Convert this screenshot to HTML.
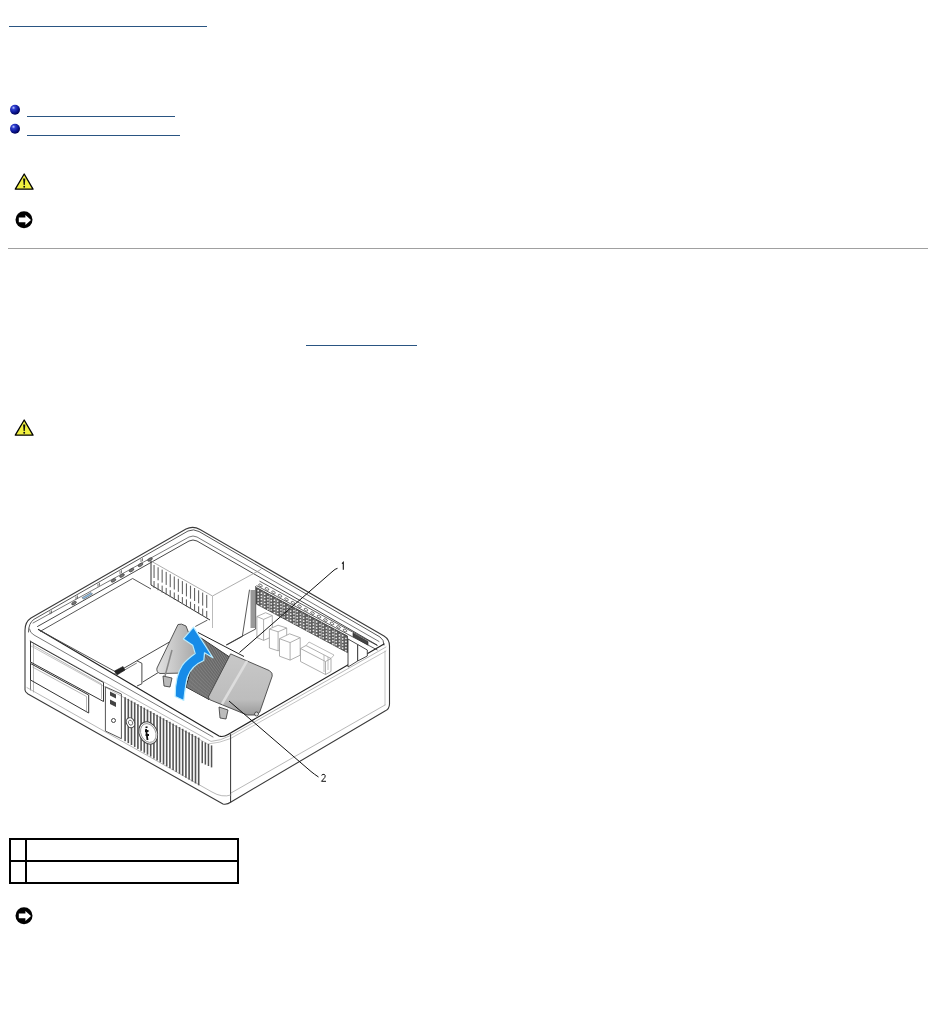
<!DOCTYPE html>
<html>
<head>
<meta charset="utf-8">
<style>
html,body{margin:0;padding:0;background:#fff;width:936px;height:1011px;overflow:hidden;font-family:"Liberation Sans",sans-serif;}
.a{position:absolute;}
.ul{position:absolute;height:1px;background:#2a5582;}
.tb{position:absolute;background:#000;}
</style>
</head>
<body>
<div class="ul" style="left:9px;top:26px;width:198px"></div>
<div class="ul" style="left:27px;top:116px;width:148px"></div>
<div class="ul" style="left:27px;top:135px;width:153px"></div>
<div class="a" style="left:8px;top:248px;width:920px;height:1px;background:#a0a0a0"></div>
<div class="ul" style="left:306px;top:345px;width:111px"></div>
<!-- table -->
<div class="tb" style="left:9px;top:838px;width:230px;height:2px"></div>
<div class="tb" style="left:9px;top:860px;width:230px;height:2px"></div>
<div class="tb" style="left:9px;top:882px;width:230px;height:2px"></div>
<div class="tb" style="left:9px;top:838px;width:2px;height:46px"></div>
<div class="tb" style="left:25px;top:838px;width:2px;height:46px"></div>
<div class="tb" style="left:237px;top:838px;width:2px;height:46px"></div>
<svg class="a" style="left:0;top:0" width="936" height="1011" viewBox="0 0 936 1011">
<defs>
<radialGradient id="bg" cx="0.35" cy="0.3" r="0.7">
<stop offset="0" stop-color="#c8d0ff"/>
<stop offset="0.25" stop-color="#3040d0"/>
<stop offset="0.7" stop-color="#0a1490"/>
<stop offset="1" stop-color="#000050"/>
</radialGradient>
<g id="caut">
<path d="M24.2 174 L15.3 189.2 L33 189.2 Z" fill="#f0f040" stroke="#000" stroke-width="1.3" stroke-linejoin="round"/>
<path d="M23.1 178.5 L25.3 178.5 L24.8 185 L23.6 185 Z" fill="#111"/>
<circle cx="24.2" cy="186.7" r="0.95" fill="#111"/>
</g>
<g id="note">
<circle cx="24" cy="219.8" r="8.5" fill="#000"/>
<path d="M18.8 217.6 H25.4 V214.9 L31 220 L25.4 225 V222.2 H18.8 Z" fill="#fff"/>
</g>
</defs>
<circle cx="15" cy="109.8" r="5" fill="url(#bg)"/>
<circle cx="15" cy="128.8" r="5" fill="url(#bg)"/>
<use href="#caut"/>
<use href="#caut" y="246"/>
<use href="#note"/>
<use href="#note" y="696"/>
<g id="illus">
<g fill="none" stroke-linejoin="round" stroke-linecap="round">
<path d="M25 690 L25 630 Q25 622 31 618 L186 529 Q193 525.5 200 529.5 L384 636 Q389.5 639.5 389.5 646 L389.5 704 Q389.5 709 385 711 L231 802 Q227 805 223 804 L28 694 Q25 692 25 690 Z" fill="#fff" stroke="#3a3a3a" stroke-width="1.1"/>
<path d="M28.5 632 Q28.5 623 34 619.3 L188 531 Q193.5 528.5 199 531.5 L380 637 Q384 639.5 384 645" stroke="#444" stroke-width="0.9"/>
<path d="M33 623 L189 537 Q193 535 197 537 L379 641.5" stroke="#555" stroke-width="0.8"/>
<path d="M37.5 626.5 L189 541 Q193 539 197 541 L377 645" stroke="#333" stroke-width="0.9"/>

<path d="M38.5 629.5 L219 736 Q223 737.5 228 734.5 L384 644" stroke="#222" stroke-width="1.2"/>
<path d="M29.5 629 Q30 633 34 635 L213 737" stroke="#555" stroke-width="0.8"/>
<path d="M30 641 L211 741.4 Q220 741 230.6 735.5 L386 647" stroke="#999" stroke-width="0.7"/>
<path d="M31 646 L207.8 744 Q220 743 230.6 738.5 L386 651" stroke="#aaa" stroke-width="0.7"/>
<path d="M30.5 641 L30.5 690" stroke="#555" stroke-width="0.8"/>
<path d="M33.5 644 L33.5 692" stroke="#999" stroke-width="0.7"/>
<path d="M231 793 L385 705" stroke="#999" stroke-width="0.7"/>
<path d="M385 651 L385 705" stroke="#aaa" stroke-width="0.7"/>
<path d="M230.6 734.5 L230.6 802" stroke="#333" stroke-width="1"/>
<path d="M27 687.6 L212 792 Q222 798 231 795" stroke="#999" stroke-width="0.7"/>
</g>
<path d="M50.0 611.3 l0 3 M51.5 610.4 l0 3" stroke="#444" stroke-width="0.7" fill="none"/><path d="M76.0 596.4 l0 3 M77.5 595.5 l0 3" stroke="#444" stroke-width="0.7" fill="none"/><path d="M98.0 583.7 l0 3 M99.5 582.8 l0 3" stroke="#444" stroke-width="0.7" fill="none"/><path d="M120.0 571.1 l0 3 M121.5 570.2 l0 3" stroke="#444" stroke-width="0.7" fill="none"/><path d="M141.0 559.1 l0 3 M142.5 558.2 l0 3" stroke="#444" stroke-width="0.7" fill="none"/><ellipse cx="74.0" cy="603.1" rx="2.6" ry="1.3" transform="rotate(-30 74.0 603.1)" fill="#777" stroke="#333" stroke-width="0.6"/><ellipse cx="113.5" cy="580.4" rx="2.6" ry="1.3" transform="rotate(-30 113.5 580.4)" fill="#777" stroke="#333" stroke-width="0.6"/><ellipse cx="122.0" cy="575.6" rx="2.6" ry="1.3" transform="rotate(-30 122.0 575.6)" fill="#777" stroke="#333" stroke-width="0.6"/><ellipse cx="131.5" cy="570.1" rx="2.6" ry="1.3" transform="rotate(-30 131.5 570.1)" fill="#777" stroke="#333" stroke-width="0.6"/><ellipse cx="140.5" cy="564.9" rx="2.6" ry="1.3" transform="rotate(-30 140.5 564.9)" fill="#777" stroke="#333" stroke-width="0.6"/><ellipse cx="150.0" cy="559.5" rx="2.6" ry="1.3" transform="rotate(-30 150.0 559.5)" fill="#777" stroke="#333" stroke-width="0.6"/><path d="M82 597.7 l9 -5.2 l1.5 1.5 l-9 5.2 z" fill="#8fc0e8" stroke="#555" stroke-width="0.6"/>
<g fill="none" stroke="#333" stroke-width="1">
<path d="M30.5 641.5 L103.5 682.5 L103.5 701.5 L30.5 662 Z"/>
<path d="M32.5 645 L101.5 684 L101.5 699" stroke="#999" stroke-width="0.7"/>
<path d="M30.5 663.5 L88.7 695 L88.7 713 L30.5 680 Z"/>
<path d="M32.5 667 L86.5 696.5 L86.5 711" stroke="#999" stroke-width="0.7"/>
<path d="M105.4 686.8 L121.4 694 L121.4 738.7 L105.4 731 Z" stroke="#555"/>
</g>
<g fill="#444">
<path d="M110 691.5 L116 694.5 L116 698.5 L110 695.5 Z"/>
<path d="M110 699.5 L116 702.5 L116 707 L110 704 Z"/>
<circle cx="113.5" cy="720.5" r="2" fill="none" stroke="#444" stroke-width="1"/>
</g>
<g fill="#555"><rect x="124.30" y="697.2" width="1.6" height="44.0"/><rect x="127.50" y="698.9" width="1.6" height="44.2"/><rect x="130.70" y="700.7" width="1.6" height="44.3"/><rect x="133.90" y="702.4" width="1.6" height="44.5"/><rect x="137.10" y="704.2" width="1.6" height="44.7"/><rect x="140.30" y="706.0" width="1.6" height="44.8"/><rect x="143.50" y="707.7" width="1.6" height="45.0"/><rect x="146.70" y="709.5" width="1.6" height="45.1"/><rect x="149.90" y="711.2" width="1.6" height="45.3"/><rect x="153.10" y="713.0" width="1.6" height="45.5"/><rect x="156.30" y="714.8" width="1.6" height="45.6"/><rect x="159.50" y="716.5" width="1.6" height="45.8"/><rect x="162.70" y="718.3" width="1.6" height="45.9"/><rect x="165.90" y="720.0" width="1.6" height="46.1"/><rect x="169.10" y="721.8" width="1.6" height="46.3"/><rect x="172.30" y="723.6" width="1.6" height="46.4"/><rect x="175.50" y="725.3" width="1.6" height="46.6"/><rect x="178.70" y="727.1" width="1.6" height="46.7"/><rect x="181.90" y="728.8" width="1.6" height="46.9"/><rect x="185.10" y="730.6" width="1.6" height="47.1"/><rect x="188.30" y="732.4" width="1.6" height="47.2"/><rect x="191.50" y="734.1" width="1.6" height="47.4"/><rect x="194.70" y="735.9" width="1.6" height="47.5"/><rect x="197.90" y="737.6" width="1.6" height="47.7"/><rect x="201.50" y="741.2" width="1.5" height="22.0"/><rect x="204.60" y="742.6" width="1.5" height="22.0"/><rect x="207.70" y="744.0" width="1.5" height="22.0"/><rect x="210.80" y="745.4" width="1.5" height="22.0"/></g>
<g fill="none" stroke-linejoin="round">
<path d="M151 561 L212.5 596 L260 570 L262 568" stroke="#999" stroke-width="0.8"/>
<path d="M151 561 L151 585 L210 620" stroke="#333" stroke-width="1"/>
<path d="M212.5 596 L212.5 628" stroke="#aaa" stroke-width="0.8"/>
</g>
<g fill="#666"><rect x="153.50" y="565.0" width="1.1" height="13" /><rect x="153.50" y="581.0" width="1.1" height="7" /><rect x="157.55" y="567.3" width="1.1" height="13" /><rect x="157.55" y="583.3" width="1.1" height="7" /><rect x="161.60" y="569.6" width="1.1" height="13" /><rect x="161.60" y="585.6" width="1.1" height="7" /><rect x="165.65" y="571.9" width="1.1" height="13" /><rect x="165.65" y="587.9" width="1.1" height="7" /><rect x="169.70" y="574.2" width="1.1" height="13" /><rect x="169.70" y="590.2" width="1.1" height="7" /><rect x="173.75" y="576.5" width="1.1" height="13" /><rect x="173.75" y="592.5" width="1.1" height="7" /><rect x="177.80" y="578.8" width="1.1" height="13" /><rect x="177.80" y="594.8" width="1.1" height="7" /><rect x="181.85" y="581.1" width="1.1" height="13" /><rect x="181.85" y="597.1" width="1.1" height="7" /><rect x="185.90" y="583.4" width="1.1" height="13" /><rect x="185.90" y="599.4" width="1.1" height="7" /><rect x="189.95" y="585.7" width="1.1" height="13" /><rect x="189.95" y="601.7" width="1.1" height="7" /><rect x="194.00" y="588.0" width="1.1" height="13" /><rect x="194.00" y="604.0" width="1.1" height="7" /><rect x="198.05" y="590.3" width="1.1" height="13" /><rect x="198.05" y="606.3" width="1.1" height="7" /><rect x="202.10" y="592.6" width="1.1" height="13" /><rect x="202.10" y="608.6" width="1.1" height="7" /><rect x="206.15" y="594.9" width="1.1" height="13" /><rect x="206.15" y="610.9" width="1.1" height="7" /></g>
<g fill="none" stroke="#444" stroke-width="0.9">
<path d="M40 631.5 L132.6 578.5 L151 589"/>
<path d="M40 630.5 L116 672"/>
<path d="M114.5 673.6 L136.8 660.8 L171 641.1 L174.4 635" stroke="#333"/>
<path d="M158 672.7 L142.7 682.1" stroke="#333"/>
<path d="M136.8 660.8 L141.9 663.3 L141.9 683.8 L137 686" stroke="#333"/>
<path d="M122 671.5 L136.8 663" stroke="#555" stroke-width="0.8"/>
<path d="M114.5 671 L123 666.5 L125 670 L117 675 Z" fill="#222" stroke="#222" stroke-width="0.6"/>
</g>
<g fill="none" stroke="#444" stroke-width="0.9">
<path d="M249.5 589.7 L242.4 636 L226 645"/>
<path d="M255.7 586 L255.7 629 L242.4 636"/>
</g>
<rect x="250.5" y="590" width="4.5" height="38" fill="#999" transform="skewY(0)"/>

<path d="M256.5 587.6 L347.5 636.1 L347.5 652.6 L256.5 604.1 Z" fill="#5e5e5e" stroke="#333" stroke-width="0.8"/>
<g fill="#f0f0f0"><circle cx="258.2" cy="590.7" r="0.85"/><circle cx="258.2" cy="593.8" r="0.85"/><circle cx="258.2" cy="596.9" r="0.85"/><circle cx="258.2" cy="600.0" r="0.85"/><circle cx="258.2" cy="603.1" r="0.85"/><circle cx="261.4" cy="593.2" r="0.85"/><circle cx="261.4" cy="596.3" r="0.85"/><circle cx="261.4" cy="599.4" r="0.85"/><circle cx="261.4" cy="602.5" r="0.85"/><circle cx="261.4" cy="605.6" r="0.85"/><circle cx="264.7" cy="594.2" r="0.85"/><circle cx="264.7" cy="597.3" r="0.85"/><circle cx="264.7" cy="600.4" r="0.85"/><circle cx="264.7" cy="603.5" r="0.85"/><circle cx="264.7" cy="606.6" r="0.85"/><circle cx="267.9" cy="596.7" r="0.85"/><circle cx="267.9" cy="599.8" r="0.85"/><circle cx="267.9" cy="602.9" r="0.85"/><circle cx="267.9" cy="606.0" r="0.85"/><circle cx="267.9" cy="609.1" r="0.85"/><circle cx="271.2" cy="597.6" r="0.85"/><circle cx="271.2" cy="600.7" r="0.85"/><circle cx="271.2" cy="603.8" r="0.85"/><circle cx="271.2" cy="606.9" r="0.85"/><circle cx="271.2" cy="610.0" r="0.85"/><circle cx="274.4" cy="600.2" r="0.85"/><circle cx="274.4" cy="603.3" r="0.85"/><circle cx="274.4" cy="606.4" r="0.85"/><circle cx="274.4" cy="609.5" r="0.85"/><circle cx="274.4" cy="612.6" r="0.85"/><circle cx="277.7" cy="601.1" r="0.85"/><circle cx="277.7" cy="604.2" r="0.85"/><circle cx="277.7" cy="607.3" r="0.85"/><circle cx="277.7" cy="610.4" r="0.85"/><circle cx="277.7" cy="613.5" r="0.85"/><circle cx="280.9" cy="603.6" r="0.85"/><circle cx="280.9" cy="606.7" r="0.85"/><circle cx="280.9" cy="609.8" r="0.85"/><circle cx="280.9" cy="612.9" r="0.85"/><circle cx="280.9" cy="616.0" r="0.85"/><circle cx="284.2" cy="604.6" r="0.85"/><circle cx="284.2" cy="607.7" r="0.85"/><circle cx="284.2" cy="610.8" r="0.85"/><circle cx="284.2" cy="613.9" r="0.85"/><circle cx="284.2" cy="617.0" r="0.85"/><circle cx="287.4" cy="607.1" r="0.85"/><circle cx="287.4" cy="610.2" r="0.85"/><circle cx="287.4" cy="613.3" r="0.85"/><circle cx="287.4" cy="616.4" r="0.85"/><circle cx="287.4" cy="619.5" r="0.85"/><circle cx="290.7" cy="608.0" r="0.85"/><circle cx="290.7" cy="611.1" r="0.85"/><circle cx="290.7" cy="614.2" r="0.85"/><circle cx="290.7" cy="617.3" r="0.85"/><circle cx="290.7" cy="620.4" r="0.85"/><circle cx="293.9" cy="610.6" r="0.85"/><circle cx="293.9" cy="613.7" r="0.85"/><circle cx="293.9" cy="616.8" r="0.85"/><circle cx="293.9" cy="619.9" r="0.85"/><circle cx="293.9" cy="623.0" r="0.85"/><circle cx="297.2" cy="611.5" r="0.85"/><circle cx="297.2" cy="614.6" r="0.85"/><circle cx="297.2" cy="617.7" r="0.85"/><circle cx="297.2" cy="620.8" r="0.85"/><circle cx="297.2" cy="623.9" r="0.85"/><circle cx="300.4" cy="614.0" r="0.85"/><circle cx="300.4" cy="617.1" r="0.85"/><circle cx="300.4" cy="620.2" r="0.85"/><circle cx="300.4" cy="623.3" r="0.85"/><circle cx="300.4" cy="626.4" r="0.85"/><circle cx="303.7" cy="615.0" r="0.85"/><circle cx="303.7" cy="618.1" r="0.85"/><circle cx="303.7" cy="621.2" r="0.85"/><circle cx="303.7" cy="624.3" r="0.85"/><circle cx="303.7" cy="627.4" r="0.85"/><circle cx="306.9" cy="617.5" r="0.85"/><circle cx="306.9" cy="620.6" r="0.85"/><circle cx="306.9" cy="623.7" r="0.85"/><circle cx="306.9" cy="626.8" r="0.85"/><circle cx="306.9" cy="629.9" r="0.85"/><circle cx="310.2" cy="618.4" r="0.85"/><circle cx="310.2" cy="621.5" r="0.85"/><circle cx="310.2" cy="624.6" r="0.85"/><circle cx="310.2" cy="627.7" r="0.85"/><circle cx="310.2" cy="630.8" r="0.85"/><circle cx="313.4" cy="621.0" r="0.85"/><circle cx="313.4" cy="624.1" r="0.85"/><circle cx="313.4" cy="627.2" r="0.85"/><circle cx="313.4" cy="630.3" r="0.85"/><circle cx="313.4" cy="633.4" r="0.85"/><circle cx="316.7" cy="621.9" r="0.85"/><circle cx="316.7" cy="625.0" r="0.85"/><circle cx="316.7" cy="628.1" r="0.85"/><circle cx="316.7" cy="631.2" r="0.85"/><circle cx="316.7" cy="634.3" r="0.85"/><circle cx="319.9" cy="624.4" r="0.85"/><circle cx="319.9" cy="627.5" r="0.85"/><circle cx="319.9" cy="630.6" r="0.85"/><circle cx="319.9" cy="633.7" r="0.85"/><circle cx="319.9" cy="636.8" r="0.85"/><circle cx="323.2" cy="625.4" r="0.85"/><circle cx="323.2" cy="628.5" r="0.85"/><circle cx="323.2" cy="631.6" r="0.85"/><circle cx="323.2" cy="634.7" r="0.85"/><circle cx="323.2" cy="637.8" r="0.85"/><circle cx="326.4" cy="627.9" r="0.85"/><circle cx="326.4" cy="631.0" r="0.85"/><circle cx="326.4" cy="634.1" r="0.85"/><circle cx="326.4" cy="637.2" r="0.85"/><circle cx="326.4" cy="640.3" r="0.85"/><circle cx="329.7" cy="628.8" r="0.85"/><circle cx="329.7" cy="631.9" r="0.85"/><circle cx="329.7" cy="635.0" r="0.85"/><circle cx="329.7" cy="638.1" r="0.85"/><circle cx="329.7" cy="641.2" r="0.85"/><circle cx="332.9" cy="631.3" r="0.85"/><circle cx="332.9" cy="634.4" r="0.85"/><circle cx="332.9" cy="637.5" r="0.85"/><circle cx="332.9" cy="640.6" r="0.85"/><circle cx="332.9" cy="643.7" r="0.85"/><circle cx="336.2" cy="632.3" r="0.85"/><circle cx="336.2" cy="635.4" r="0.85"/><circle cx="336.2" cy="638.5" r="0.85"/><circle cx="336.2" cy="641.6" r="0.85"/><circle cx="336.2" cy="644.7" r="0.85"/><circle cx="339.4" cy="634.8" r="0.85"/><circle cx="339.4" cy="637.9" r="0.85"/><circle cx="339.4" cy="641.0" r="0.85"/><circle cx="339.4" cy="644.1" r="0.85"/><circle cx="339.4" cy="647.2" r="0.85"/><circle cx="342.7" cy="635.7" r="0.85"/><circle cx="342.7" cy="638.8" r="0.85"/><circle cx="342.7" cy="641.9" r="0.85"/><circle cx="342.7" cy="645.0" r="0.85"/><circle cx="342.7" cy="648.1" r="0.85"/><circle cx="345.9" cy="638.3" r="0.85"/><circle cx="345.9" cy="641.4" r="0.85"/><circle cx="345.9" cy="644.5" r="0.85"/><circle cx="345.9" cy="647.6" r="0.85"/><circle cx="345.9" cy="650.7" r="0.85"/></g>
<path d="M263.0 591.1 L263.0 607.6 M269.5 594.5 L269.5 611.0 M276.0 598.0 L276.0 614.5 M282.5 601.5 L282.5 618.0 M289.0 604.9 L289.0 621.4 M295.5 608.4 L295.5 624.9 M302.0 611.9 L302.0 628.4 M308.5 615.3 L308.5 631.8 M315.0 618.8 L315.0 635.3 M321.5 622.2 L321.5 638.7 M328.0 625.7 L328.0 642.2 M334.5 629.2 L334.5 645.7 M341.0 632.6 L341.0 649.1" stroke="#bbb" stroke-width="0.6" fill="none"/>
<path d="M256.5 585.6 L377.5 650.1 M259.5 581.1 L377.5 645.6" stroke="#333" stroke-width="0.8" fill="none"/>
<g fill="none" stroke="#444" stroke-width="0.7"><ellipse cx="260.5" cy="585.4" rx="2" ry="1.1" transform="rotate(30 260.5 585.4)"/><ellipse cx="267.0" cy="588.9" rx="2" ry="1.1" transform="rotate(30 267.0 588.9)"/><ellipse cx="273.5" cy="592.4" rx="2" ry="1.1" transform="rotate(30 273.5 592.4)"/><ellipse cx="280.0" cy="595.8" rx="2" ry="1.1" transform="rotate(30 280.0 595.8)"/><ellipse cx="286.5" cy="599.3" rx="2" ry="1.1" transform="rotate(30 286.5 599.3)"/><ellipse cx="293.0" cy="602.8" rx="2" ry="1.1" transform="rotate(30 293.0 602.8)"/><ellipse cx="299.5" cy="606.2" rx="2" ry="1.1" transform="rotate(30 299.5 606.2)"/><ellipse cx="306.0" cy="609.7" rx="2" ry="1.1" transform="rotate(30 306.0 609.7)"/><ellipse cx="312.5" cy="613.1" rx="2" ry="1.1" transform="rotate(30 312.5 613.1)"/><ellipse cx="319.0" cy="616.6" rx="2" ry="1.1" transform="rotate(30 319.0 616.6)"/><ellipse cx="325.5" cy="620.1" rx="2" ry="1.1" transform="rotate(30 325.5 620.1)"/><ellipse cx="332.0" cy="623.5" rx="2" ry="1.1" transform="rotate(30 332.0 623.5)"/><ellipse cx="338.5" cy="627.0" rx="2" ry="1.1" transform="rotate(30 338.5 627.0)"/><ellipse cx="345.0" cy="630.5" rx="2" ry="1.1" transform="rotate(30 345.0 630.5)"/></g>
<g fill="#fff" stroke="#333" stroke-width="0.9">
<path d="M348 639 L357.7 644.5 L357.7 661 L348 667 Z"/>
<path d="M357.7 644.5 L367.3 650 L367.3 656 L357.7 661 Z"/>
</g>
<path d="M353 633 L368 641.5 L368 645 L353 636.5 Z" fill="#444" stroke="#222" stroke-width="0.6"/>

<path d="M256.9 616.5 L265.6 612.7 L272.3 615.6 L272.3 636.6 L263.6 640.4 L256.9 637.5 Z" fill="#fff" stroke="#9a9a9a" stroke-width="0.8"/><path d="M256.9 616.5 L263.6 619.4 L272.3 615.6 M263.6 619.4 L263.6 640.4" fill="none" stroke="#9a9a9a" stroke-width="0.8"/>
<path d="M269.4 629.0 L278.0 625.2 L286.7 628.0 L286.7 647.0 L278.1 650.8 L269.4 648.0 Z" fill="#fff" stroke="#9a9a9a" stroke-width="0.8"/><path d="M269.4 629.0 L278.1 631.8 L286.7 628.0 M278.1 631.8 L278.1 650.8" fill="none" stroke="#9a9a9a" stroke-width="0.8"/>
<path d="M279.5 638.7 L289.6 633.8 L300.2 637.7 L300.2 655.2 L290.1 660.1 L279.5 656.2 Z" fill="#fff" stroke="#9a9a9a" stroke-width="0.8"/><path d="M279.5 638.7 L290.1 642.6 L300.2 637.7 M290.1 642.6 L290.1 660.1" fill="none" stroke="#9a9a9a" stroke-width="0.8"/>
<path d="M300.5 648.5 L306.0 645.5 L331.0 658.5 L331.0 671.5 L325.5 674.5 L300.5 661.5 Z" fill="#fff" stroke="#9a9a9a" stroke-width="0.8"/><path d="M300.5 648.5 L325.5 661.5 L331.0 658.5 M325.5 661.5 L325.5 674.5" fill="none" stroke="#9a9a9a" stroke-width="0.8"/>
<path d="M306 645.5 L309 642 L334 655 L331 658.5 M324 655 L324 672 M328 657 L328 670" fill="none" stroke="#aaa" stroke-width="0.8"/>
<defs><linearGradient id="lsg" x1="0" y1="0" x2="1" y2="0"><stop offset="0" stop-color="#e2e2e2"/><stop offset="1" stop-color="#a8a8a8"/></linearGradient>
<linearGradient id="rsg" x1="0" y1="0" x2="0" y2="1"><stop offset="0" stop-color="#c8c8c8"/><stop offset="0.75" stop-color="#bdbdbd"/><stop offset="1" stop-color="#9a9a9a"/></linearGradient></defs>
<path d="M178 624.5 Q181 623 186 626 L196 652 L186 673 L160 673.5 Q156 672 157 668 Z" fill="url(#lsg)" stroke="#444" stroke-width="0.9"/>
<path d="M172 650 L165 676" stroke="#888" stroke-width="1.5"/>
<path d="M163 676 L172 678 L170 687 L164 686 Z" fill="#bbb" stroke="#333" stroke-width="0.8"/>

<path d="M199.5 637 L229.5 657 L209 699.5 L186 687 Z" fill="#5a5a5a" stroke="#222" stroke-width="1"/>
<path d="M200.9 637.9 L187.0 687.6 M202.2 638.8 L188.1 688.1 M203.6 639.7 L189.1 688.7 M205.0 640.6 L190.2 689.3 M206.3 641.5 L191.2 689.8 M207.7 642.5 L192.3 690.4 M209.0 643.4 L193.3 691.0 M210.4 644.3 L194.4 691.5 M211.8 645.2 L195.4 692.1 M213.1 646.1 L196.5 692.7 M214.5 647.0 L197.5 693.2 M215.9 647.9 L198.5 693.8 M217.2 648.8 L199.6 694.4 M218.6 649.7 L200.6 695.0 M220.0 650.6 L201.7 695.5 M221.3 651.5 L202.7 696.1 M222.7 652.5 L203.8 696.7 M224.0 653.4 L204.8 697.2 M225.4 654.3 L205.9 697.8 M226.8 655.2 L206.9 698.4 M228.1 656.1 L208.0 698.9" stroke="#9a9a9a" stroke-width="0.6" fill="none"/>
<path d="M230.6 653.9 L269.4 670.6 Q273 673 272.2 676.1 L259.7 712.2 Q258 715 254 715 L247.2 715 L209.7 699.7 L208.3 697 Z" fill="url(#rsg)" stroke="#444" stroke-width="0.9"/>
<path d="M222 704 L247 661" stroke="#ddd" stroke-width="2.5"/>
<path d="M219 707 L228 710 L226 719 L220 718 Z" fill="#bbb" stroke="#333" stroke-width="0.8"/>
<circle cx="256.5" cy="714" r="2" fill="#ddd" stroke="#333" stroke-width="0.8"/>

<path d="M198 632.5 L244 656.5" stroke="#222" stroke-width="1" fill="none"/><path d="M195.3 626.5 L207.4 620.1" stroke="#333" stroke-width="0.8" fill="none"/><path d="M226.7 645 L242.7 636.2" stroke="#333" stroke-width="0.9" fill="none"/>
<path d="M193.5 627.1 L212.9 657.8 L204.5 652.8 L203.8 660.5 Q191.5 665.5 187.5 677 Q185.5 684 183.8 700.5 L175.2 696.5 Q175 676 182.5 665 Q187 659.5 195.2 653.6 L192.7 645.2 L183.4 638.9 Z" fill="#168be8" stroke="#b8ecff" stroke-width="1.2" stroke-linejoin="round"/>
<path d="M239.5 652.5 L333 571 Q335 569 337.5 568.3" stroke="#111" stroke-width="1" fill="none"/>
<path d="M229 701 L311 771.5 Q314 774 318.5 777" stroke="#111" stroke-width="1" fill="none"/>
<path d="M342 563.6 L343.3 562.3 L343.3 569.8" stroke="#111" stroke-width="1.1" fill="none"/>
<path d="M321.5 775.3 Q323 773.8 324.5 774.5 Q325.8 775.5 324.8 777.5 L321.5 781.3 L326 781.3" stroke="#111" stroke-width="1" fill="none"/>
<ellipse cx="148.3" cy="733" rx="9" ry="11.5" transform="rotate(-25 148.3 733)" fill="#fff" stroke="#444" stroke-width="1"/>
<ellipse cx="148.3" cy="733" rx="7.3" ry="9.8" transform="rotate(-25 148.3 733)" fill="#fff" stroke="#777" stroke-width="0.7"/>
<path d="M145.5 727.5 L147.5 727 M146 729 L147.5 740 M145 731 L148.5 731 M145.5 735 L149 735" stroke="#111" stroke-width="1.8" fill="none"/>
<ellipse cx="130.5" cy="722.7" rx="4" ry="5.2" transform="rotate(-25 130.5 722.7)" fill="#fff" stroke="#444" stroke-width="1"/>
<ellipse cx="130.5" cy="722.7" rx="2" ry="2.6" transform="rotate(-25 130.5 722.7)" fill="none" stroke="#555" stroke-width="0.8"/>
</g>
</svg>
</body>
</html>
